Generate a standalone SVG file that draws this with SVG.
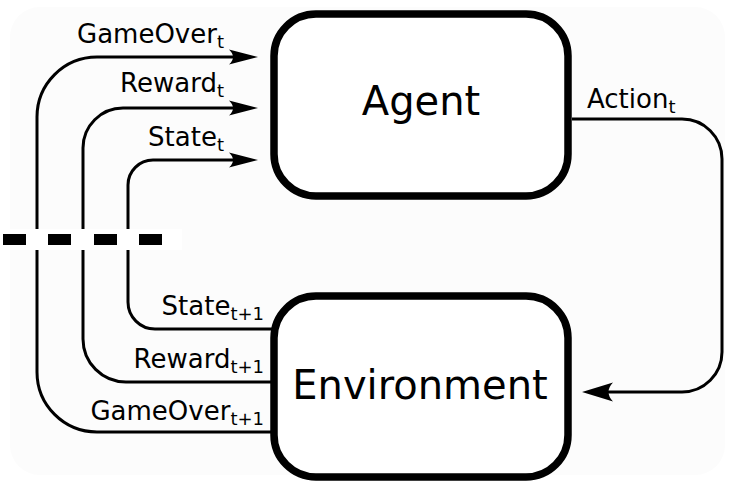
<svg xmlns="http://www.w3.org/2000/svg" width="733" height="485" viewBox="0 0 733 485">
  <style>
    .box { fill: #ffffff; stroke: #000000; stroke-width: 7.5; }
    .conn { fill: none; stroke: #000000; stroke-width: 3; }
    .title { font-family: "DejaVu Sans", sans-serif; font-size: 40px; fill: #000000; text-anchor: middle; }
    .lbl { font-family: "DejaVu Sans", sans-serif; font-size: 26px; fill: #000000; }
    .sub { font-size: 18px; }
    .dash { fill: #000000; }
  </style>
  <defs>
    <marker id="arrowS" markerUnits="userSpaceOnUse" orient="auto" refX="0" refY="0" markerWidth="40" markerHeight="40" viewBox="-20 -20 40 40" overflow="visible">
      <path d="M16,0 L-13,-7.5 Q-5,0 -13,7.5 Z" fill="#000000"/>
    </marker>
    <marker id="arrowL" markerUnits="userSpaceOnUse" orient="auto" refX="0" refY="0" markerWidth="40" markerHeight="40" viewBox="-20 -20 40 40" overflow="visible">
      <path d="M18,0 L-13,-9.5 Q-4,0 -13,9.5 Z" fill="#000000"/>
    </marker>
  </defs>

  <rect x="10" y="7" width="715" height="468" rx="30" fill="#fcfcfc"/>

  <g id="connectors">
    <path id="c-gameover" class="conn" d="M272,432 H97 A60,60 0 0 1 37,372 V117 A60,60 0 0 1 97,57 H242" marker-end="url(#arrowS)"/>
    <path id="c-reward" class="conn" d="M272,382 H126 A43,43 0 0 1 83,339 V148 A40,40 0 0 1 123,108 H242" marker-end="url(#arrowS)"/>
    <path id="c-state" class="conn" d="M272,329 H155 A27,27 0 0 1 128,302 V185 A25,25 0 0 1 153,160 H242" marker-end="url(#arrowS)"/>
    <path id="c-action" class="conn" d="M572,119 H682 A40,40 0 0 1 722,159 V352 A40,40 0 0 1 682,392 H600" marker-end="url(#arrowL)"/>
  </g>

  <g id="timestep-break">
    <rect x="0" y="229" width="182" height="21" fill="#ffffff"/>
    <rect class="dash" x="3" y="234" width="23" height="11"/>
    <rect class="dash" x="48" y="234" width="23" height="11"/>
    <rect class="dash" x="94" y="234" width="23" height="11"/>
    <rect class="dash" x="139" y="234" width="23" height="11"/>
  </g>

  <g id="agent">
    <rect class="box" x="274" y="14" width="294" height="182" rx="42"/>
    <text class="title" x="421" y="115">Agent</text>
  </g>

  <g id="environment">
    <rect class="box" x="274" y="296" width="294" height="181" rx="42"/>
    <text class="title" x="420" y="399">Environment</text>
  </g>

  <g id="labels">
    <text class="lbl" x="224" y="43" text-anchor="end">GameOver<tspan class="sub" dy="5">t</tspan></text>
    <text class="lbl" x="224" y="92" text-anchor="end">Reward<tspan class="sub" dy="5">t</tspan></text>
    <text class="lbl" x="224" y="146" text-anchor="end">State<tspan class="sub" dy="5">t</tspan></text>
    <text class="lbl" x="264" y="315" text-anchor="end">State<tspan class="sub" dy="5">t+1</tspan></text>
    <text class="lbl" x="264" y="368" text-anchor="end">Reward<tspan class="sub" dy="5">t+1</tspan></text>
    <text class="lbl" x="264" y="420" text-anchor="end">GameOver<tspan class="sub" dy="5">t+1</tspan></text>
    <text class="lbl" x="587" y="108">Action<tspan class="sub" dy="5">t</tspan></text>
  </g>
</svg>
